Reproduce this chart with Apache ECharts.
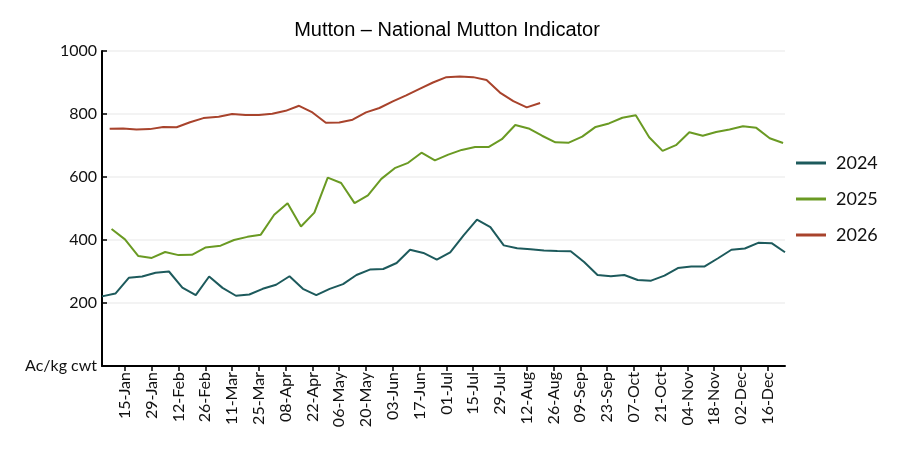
<!DOCTYPE html>
<html>
<head>
<meta charset="utf-8">
<script src="https://cdn.jsdelivr.net/npm/echarts@6/dist/echarts.min.js"></script>
<style>
    html, body { margin: 0; padding: 0; background: #fff; }
    #chart { width: 900px; height: 450px; }
</style>
</head>
<body>
<div id="chart"></div>
<script>
// weekly prices (Wednesdays), one array per year
let values2024 = [221, 230, 280, 284, 296, 300, 249, 225, 284, 248, 223, 227, 245, 258, 285, 245, 225, 245, 260, 289,
    306, 308, 327, 369, 359, 338, 361, 415, 465, 441, 383, 374, 371, 367, 365, 364, 330, 289, 285, 289,
    273, 271, 287, 311, 316, 316, 342, 369, 373, 391, 390, 361];
let values2025 = [435, 402, 349, 343, 362, 352, 353, 376, 382, 400, 410, 417, 480, 517, 443, 487, 598, 581, 517, 542,
    594, 628, 645, 677, 653, 671, 686, 695, 695, 720, 765, 754, 731, 710, 709, 728, 759, 770, 788, 796,
    726, 683, 701, 742, 731, 743, 751, 761, 756, 723, 708];
let values2026 = [753, 754, 751, 752, 759, 758, 774, 787, 791, 800, 797, 797, 801, 810, 826, 805, 772, 773, 782, 805,
    819, 840, 859, 880, 900, 917, 919, 917, 908, 868, 841, 821, 835];

// first week of each series
let startDates = {
    "2024": [2024, 0, 3],
    "2025": [2025, 0, 8],
    "2026": [2026, 0, 7]
};
let axisStart = "03-Jan";
let axisEnd = "25-Dec";

let tickLabels = ["15-Jan", "29-Jan", "12-Feb", "26-Feb", "11-Mar", "25-Mar", "08-Apr", "22-Apr", "06-May", "20-May",
    "03-Jun", "17-Jun", "01-Jul", "15-Jul", "29-Jul", "12-Aug", "26-Aug", "09-Sep", "23-Sep", "07-Oct",
    "21-Oct", "04-Nov", "18-Nov", "02-Dec", "16-Dec"];

let colors = ["#1d5a5c", "#6a9a23", "#a8432c"];

let months = ["Jan", "Feb", "Mar", "Apr", "May", "Jun", "Jul", "Aug", "Sep", "Oct", "Nov", "Dec"];

// day of year on a 2024 calendar, so every year shares one axis
function dayOf(month, day) {
    return (Date.UTC(2024, month, day) - Date.UTC(2024, 0, 1)) / 86400000 + 1;
}

function labelDay(label) {
    let parts = label.split("-");
    return dayOf(months.indexOf(parts[1]), parseInt(parts[0], 10));
}

function toPoints(start, values) {
    let first = Date.UTC(start[0], start[1], start[2]);
    return values.map(function (value, i) {
        let date = new Date(first + i * 7 * 86400000);
        return [dayOf(date.getUTCMonth(), date.getUTCDate()), value];
    });
}

let tickDays = tickLabels.map(labelDay);
let labelByDay = {};
tickDays.forEach((d, i) => labelByDay[d] = tickLabels[i]);

let seriesList = [
    { name: "2024", values: values2024 },
    { name: "2025", values: values2025 },
    { name: "2026", values: values2026 }
];

let chart = echarts.init(document.getElementById("chart"));
let option = {
    animation: false,
    color: colors,
    title: {
        text: "Mutton \u2013 National Mutton Indicator",
        left: 442,
        top: 15,
        textAlign: "center",
        textStyle: {
            fontFamily: "Liberation Sans",
            fontSize: 20,
            fontWeight: "normal",
            color: "#000"
        }
    },
    grid: {
        left: 102,
        right: 115,
        top: 51,
        bottom: 84
    },
    legend: {
        orient: "vertical",
        left: 791,
        top: 149,
        itemWidth: 30,
        itemHeight: 3,
        itemGap: 18,
        icon: "rect",
        data: seriesList.map(s => s.name),
        textStyle: {
            fontFamily: "Lato",
            fontSize: 18,
            color: "#111",
            padding: [0, 0, 0, 5]
        }
    },
    xAxis: {
        type: "value",
        min: labelDay(axisStart),
        max: labelDay(axisEnd),
        axisLine: {
            show: true,
            lineStyle: { color: "#000", width: 2 }
        },
        axisTick: {
            show: true,
            customValues: tickDays,
            length: 5,
            lineStyle: { color: "#000", width: 1.5 }
        },
        axisLabel: {
            customValues: tickDays,
            rotate: 90,
            margin: 6,
            fontFamily: "Lato",
            fontSize: 16,
            color: "#111",
            formatter: function (value) {
                return labelByDay[value] || "";
            }
        },
        splitLine: { show: false }
    },
    yAxis: {
        type: "value",
        min: 0,
        max: 1000,
        interval: 200,
        axisLine: {
            show: true,
            lineStyle: { color: "#000", width: 2 }
        },
        axisTick: {
            show: true,
            inside: true,
            length: 5,
            lineStyle: { color: "#000", width: 1.5 }
        },
        axisLabel: {
            margin: 5,
            fontFamily: "Lato",
            fontSize: 16,
            color: "#111",
            formatter: function (value) {
                return value === 0 ? "Ac/kg cwt" : value;
            }
        },
        splitLine: {
            lineStyle: { color: "#efefef", width: 1.5 }
        }
    },
    series: seriesList.map(function (s) {
        return {
            name: s.name,
            type: "line",
            symbol: "none",
            lineStyle: { width: 2 },
            data: toPoints(startDates[s.name], s.values)
        };
    })
};
chart.setOption(option);
</script>
</body>
</html>
